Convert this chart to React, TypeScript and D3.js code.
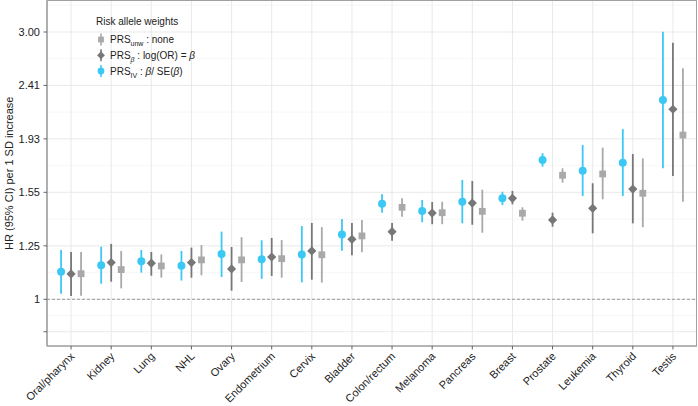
import React from "react";
import * as d3 from "d3";

const categories = ["Oral/pharynx","Kidney","Lung","NHL","Ovary","Endometrium","Cervix","Bladder","Colon/rectum","Melanoma","Pancreas","Breast","Prostate","Leukemia","Thyroid","Testis"];

const unwEst = [1.111,1.130,1.147,1.176,1.176,1.182,1.201,1.298,1.460,1.428,1.436,1.425,1.666,1.675,1.547,1.966];
const unwLo = [1.015,1.046,1.093,1.104,1.074,1.093,1.071,1.213,1.405,1.362,1.315,1.382,1.616,1.509,1.345,1.494];
const unwHi = [1.215,1.220,1.203,1.250,1.291,1.276,1.346,1.386,1.515,1.494,1.570,1.460,1.714,1.866,1.786,2.587];

const betaEst = [1.110,1.163,1.160,1.163,1.133,1.190,1.220,1.280,1.321,1.426,1.486,1.515,1.386,1.454,1.574,2.186];
const betaLo = [1.014,1.075,1.102,1.093,1.036,1.101,1.084,1.199,1.273,1.362,1.359,1.478,1.348,1.312,1.367,1.661];
const betaHi = [1.215,1.256,1.215,1.237,1.240,1.287,1.369,1.369,1.369,1.492,1.627,1.562,1.428,1.612,1.818,2.875];

const ivEst = [1.120,1.150,1.169,1.148,1.205,1.179,1.203,1.305,1.482,1.438,1.494,1.515,1.774,1.698,1.754,2.271];
const ivLo = [1.023,1.066,1.116,1.080,1.096,1.088,1.072,1.221,1.428,1.373,1.367,1.474,1.726,1.530,1.530,1.714];
const ivHi = [1.225,1.242,1.225,1.220,1.321,1.275,1.352,1.392,1.541,1.505,1.634,1.557,1.824,1.887,2.015,3.008];

const yTicks = [0.875, 1, 1.246, 1.553, 1.935, 2.411, 3.004];
const yTickLabels = ["", "1", "1.25", "1.55", "1.93", "2.41", "3.00"];

const FONT = "Liberation Sans, Arial, Helvetica, sans-serif";
const BLUE = "#3cc8f4";
const DARK = "#777777";
const LIGHT = "#a9a9a9";

const W = 698, H = 406;
const L = 47, R = 697, T = 0.5, B = 346;

export default function App() {
  const x = d3.scalePoint<string>().domain(categories).range([L, R]).padding(0.6);
  const y = d3.scaleLog().domain([0.8251, 3.427]).range([B, 0]);

  const logT = yTicks.map((v) => Math.log(v));
  const minor: number[] = [];
  for (let i = 0; i < logT.length - 1; i++) minor.push(Math.exp((logT[i] + logT[i + 1]) / 2));
  minor.push(Math.exp(logT[logT.length - 1] + 0.11));

  const series = [
    { key: "iv", est: ivEst, lo: ivLo, hi: ivHi, color: BLUE, shape: "circle", dx: -10 },
    { key: "beta", est: betaEst, lo: betaLo, hi: betaHi, color: DARK, shape: "diamond", dx: 0 },
    { key: "unw", est: unwEst, lo: unwLo, hi: unwHi, color: LIGHT, shape: "square", dx: 10 },
  ];

  const symbol = (shape: string, cx: number, cy: number, color: string, s: number) => {
    if (shape === "circle") return <circle cx={cx} cy={cy} r={4 * s} fill={color} />;
    if (shape === "diamond") {
      const h = 4.6 * s;
      return <path d={`M${cx},${cy - h}L${cx + h},${cy}L${cx},${cy + h}L${cx - h},${cy}Z`} fill={color} />;
    }
    const a = 3.4 * s;
    return <rect x={cx - a} y={cy - a} width={2 * a} height={2 * a} fill={color} />;
  };

  const legend = [
    { shape: "square", color: LIGHT, y: 39.5, label: (
      <>
        <tspan>PRS</tspan>
        <tspan fontSize={7} dy={3}>unw</tspan>
        <tspan dy={-3}> : none</tspan>
      </>
    ) },
    { shape: "diamond", color: DARK, y: 55.3, label: (
      <>
        <tspan>PRS</tspan>
        <tspan fontSize={7} dy={3} fontStyle="italic">β</tspan>
        <tspan dy={-3}> : log(OR) = </tspan>
        <tspan fontStyle="italic">β</tspan>
      </>
    ) },
    { shape: "circle", color: BLUE, y: 71, label: (
      <>
        <tspan>PRS</tspan>
        <tspan fontSize={7} dy={3}>IV</tspan>
        <tspan dy={-3}> : </tspan>
        <tspan fontStyle="italic">β</tspan>
        <tspan>/ SE(</tspan>
        <tspan fontStyle="italic">β</tspan>
        <tspan>)</tspan>
      </>
    ) },
  ];

  return (
    <svg width={W} height={H} style={{ position: "absolute", left: 0, top: 0, background: "#fff" }} fontFamily={FONT}>
      <rect x={0} y={0} width={W} height={H} fill="#fff" />
      {/* minor grid */}
      {minor.map((v, i) => (
        <line key={"mn" + i} x1={L} x2={R} y1={y(v)} y2={y(v)} stroke="#f2f2f2" strokeWidth={0.6} />
      ))}
      {/* major grid */}
      {yTicks.map((v, i) => (
        <line key={"mj" + i} x1={L} x2={R} y1={y(v)} y2={y(v)} stroke="#e6e6e6" strokeWidth={0.9} />
      ))}
      {categories.map((c) => (
        <line key={"vg" + c} x1={x(c)} x2={x(c)} y1={T} y2={B} stroke="#e6e6e6" strokeWidth={0.9} />
      ))}
      {/* reference line */}
      <line x1={L} x2={R} y1={y(1)} y2={y(1)} stroke="#9a9a9a" strokeWidth={1} strokeDasharray="3,2" />
      {/* panel border */}
      <rect x={L} y={T} width={R - L - 0.5} height={B - T} fill="none" stroke="#a0a0a0" strokeWidth={1} />
      <line x1={L} x2={L} y1={T} y2={B} stroke="#999" strokeWidth={1.2} />
      <line x1={L} x2={R} y1={B} y2={B} stroke="#999" strokeWidth={1.2} />
      {/* y ticks */}
      {yTicks.map((v, i) => (
        <g key={"yt" + i}>
          <line x1={L - 3.5} x2={L} y1={y(v)} y2={y(v)} stroke="#555" strokeWidth={0.9} />
          <text x={L - 7} y={y(v)} dy="0.35em" textAnchor="end" fontSize={11} fill="#222">{yTickLabels[i]}</text>
        </g>
      ))}
      {/* x ticks */}
      {categories.map((c) => (
        <g key={"xt" + c}>
          <line x1={x(c)} x2={x(c)} y1={B} y2={B + 3.5} stroke="#555" strokeWidth={0.9} />
          <text transform={`translate(${(x(c) as number) + 4},${B + 11}) rotate(-45)`} textAnchor="end" fontSize={11} fill="#222">{c}</text>
        </g>
      ))}
      <text transform={`translate(13,${(T + B) / 2}) rotate(-90)`} textAnchor="middle" fontSize={11} fill="#222">HR (95% CI) per 1 SD increase</text>
      {/* series */}
      {series.map((s) => (
        <g key={s.key}>
          {categories.map((c, i) => {
            const cx = (x(c) as number) + s.dx;
            return (
              <g key={c}>
                <line x1={cx} x2={cx} y1={y(s.lo[i])} y2={y(s.hi[i])} stroke={s.color} strokeWidth={1.8} />
                {symbol(s.shape, cx, y(s.est[i]), s.color, 1)}
              </g>
            );
          })}
        </g>
      ))}
      {/* legend */}
      <text x={96} y={25} fontSize={10} fill="#222">Risk allele weights</text>
      {legend.map((e, i) => (
        <g key={"lg" + i}>
          <line x1={101} x2={101} y1={e.y - 6} y2={e.y + 6} stroke={e.color} strokeWidth={1.6} />
          {symbol(e.shape, 101, e.y, e.color, 0.85)}
          <text x={110} y={e.y + 3.5} fontSize={10} fill="#222">{e.label}</text>
        </g>
      ))}
    </svg>
  );
}
